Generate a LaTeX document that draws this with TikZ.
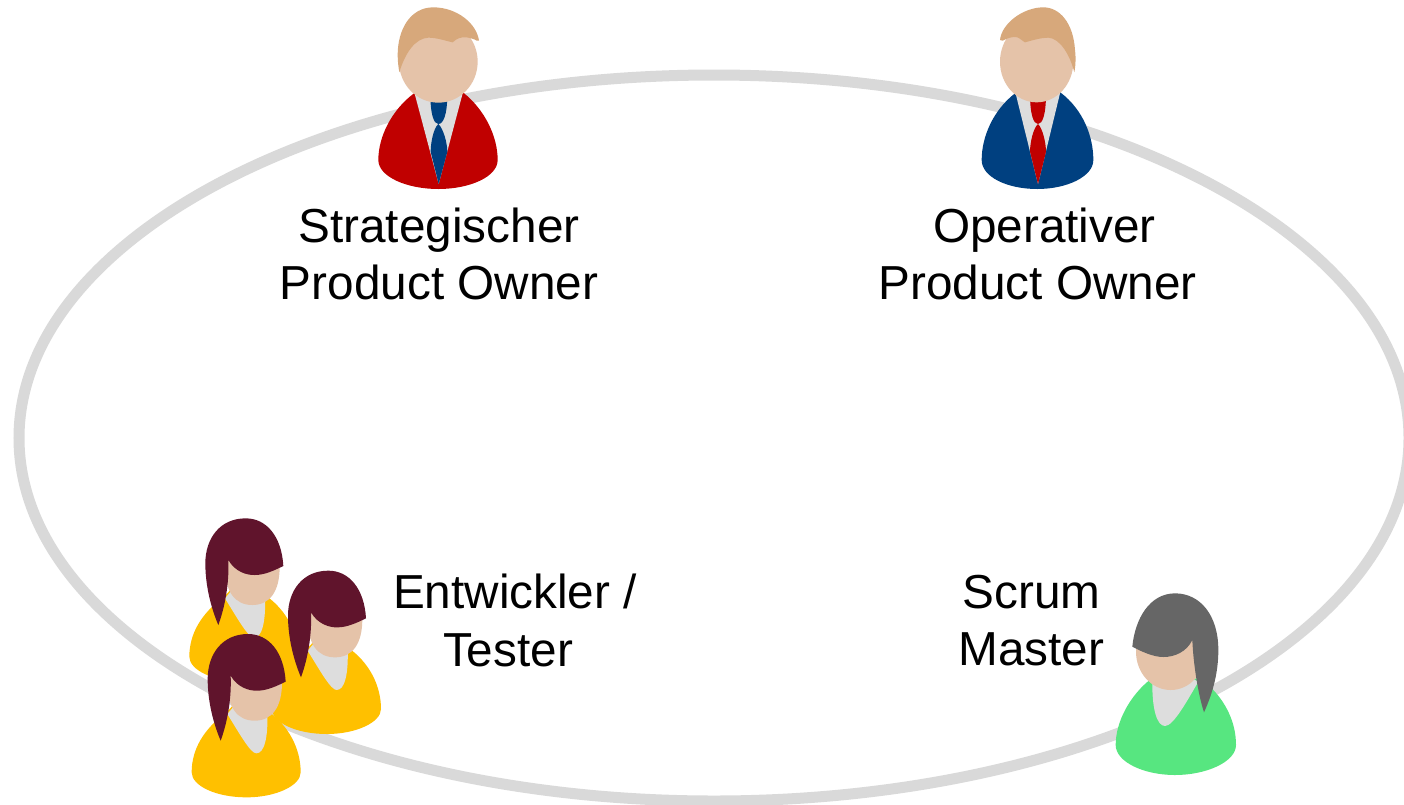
\documentclass[tikz,border=0pt]{standalone}
\usepackage{fontspec}
\setmainfont{Liberation Sans}
\definecolor{ringc}{HTML}{D9D9D9}
\definecolor{skinc}{HTML}{E5C3A9}
\definecolor{blondc}{HTML}{D7A87B}
\definecolor{collarc}{HTML}{DDDDDD}
\definecolor{suitred}{HTML}{C00000}
\definecolor{suitblue}{HTML}{004080}
\definecolor{shirtyellow}{HTML}{FFC000}
\definecolor{hairdark}{HTML}{60142C}
\definecolor{hairgrey}{HTML}{666666}
\definecolor{shirtgreen}{HTML}{57E680}
\tikzset{
  ring/.style={draw=ringc,line width=11pt},
  skin/.style={fill=skinc},
  collar/.style={fill=collarc},
  label/.style={inner sep=0pt,align=center,text=black,font=\fontsize{47.7}{57.3}\selectfont},
  zoomed/.style={shift={#1},scale=1/3}
}
\newcommand{\womanfig}[2]{%
  \begin{scope}[shift={#1}]
    \fill[shirtyellow] (255,255) .. controls (320,300) and (355,370) .. (355,440) .. controls (355,480) and (280,515) .. (193,515) .. controls (100,515) and (28,480) .. (28,440) .. controls (28,370) and (65,310) .. (130,262) -- (190,200) -- cycle;
    \fill[collar] (255,255) .. controls (258,340) and (245,383) .. (222,383) .. controls (205,383) and (175,330) .. (135,265) -- (190,200) -- cycle;
    \fill[skin] (135,170) .. controls (135,245) and (165,285) .. (217,285) .. controls (269,285) and (299,245) .. (299,170) .. controls (299,100) and (264,55) .. (217,55) .. controls (170,55) and (135,100) .. (135,170) -- cycle;
    \fill[#2] (197,25) .. controls (120,25) and (76,85) .. (76,160) .. controls (76,240) and (100,310) .. (115,345) .. controls (135,290) and (148,220) .. (145,150) .. controls (165,185) and (200,196) .. (225,195) .. controls (255,195) and (285,180) .. (310,168) .. controls (305,80) and (260,25) .. (197,25) -- cycle;
  \end{scope}}
\begin{document}
\begin{tikzpicture}[x=1pt,y=-1pt]
\clip (0,0) rectangle (1404,804);
\fill[white] (0,0) rectangle (1404,804);
\draw[ring] (714,438) ellipse [x radius=695,y radius=363];

% strategic product owner
\begin{scope}[zoomed={(360,0)}]
  \fill[suitred] (162,280) .. controls (95,330) and (55,410) .. (55,480) .. controls (55,530) and (140,567) .. (235,567) .. controls (330,567) and (413,530) .. (413,480) .. controls (413,410) and (375,330) .. (310,278) -- (235,200) -- cycle;
  \fill[collar] (165,285) -- (236,552) -- (308,280) -- (235,200) -- cycle;
  \fill[suitblue] (211,280) .. controls (211,345) and (222,372) .. (235,372) .. controls (250,372) and (262,345) .. (262,280) -- cycle;
  \fill[suitblue] (235,372) .. controls (220,385) and (212,430) .. (212,455) -- (236,552) -- (262,455) .. controls (262,430) and (250,385) .. (235,372) -- cycle;
  \fill[skin] (235,185) ellipse [x radius=118,y radius=123];
  \fill[blondc] (220,22) .. controls (150,22) and (113,90) .. (113,165) .. controls (113,185) and (116,205) .. (118,217) .. controls (135,160) and (165,115) .. (205,113) .. controls (230,113) and (255,122) .. (278,127) .. controls (290,115) and (305,110) .. (320,112) .. controls (335,115) and (345,118) .. (350,122) -- (357,122) .. controls (350,70) and (290,22) .. (220,22) -- cycle;
\end{scope}

% operative product owner
\begin{scope}[zoomed={(960,0)}]
  \fill[suitblue] (165,280) .. controls (100,330) and (65,410) .. (65,480) .. controls (65,530) and (140,567) .. (232,567) .. controls (320,567) and (400,530) .. (400,480) .. controls (400,410) and (370,330) .. (302,278) -- (232,200) -- cycle;
  \fill[collar] (168,285) -- (234,552) -- (300,280) -- (232,200) -- cycle;
  \fill[suitred] (210,280) .. controls (210,345) and (221,372) .. (234,372) .. controls (247,372) and (258,345) .. (258,280) -- cycle;
  \fill[suitred] (234,372) .. controls (219,385) and (210,430) .. (210,455) -- (234,552) -- (258,455) .. controls (258,430) and (248,385) .. (234,372) -- cycle;
  \fill[skin] (230,185) ellipse [x radius=110,y radius=122];
  \fill[blondc] (250,22) .. controls (190,22) and (125,70) .. (120,120) -- (128,122) .. controls (140,115) and (160,108) .. (172,112) .. controls (180,115) and (190,125) .. (195,127) .. controls (220,120) and (245,113) .. (265,113) .. controls (300,115) and (330,165) .. (343,217) .. controls (348,190) and (347,165) .. (345,150) .. controls (340,70) and (300,22) .. (250,22) -- cycle;
\end{scope}

% developers / testers
\begin{scope}[zoomed={(180,510)}]
  \womanfig{(0,0)}{hairdark}
  \womanfig{(248,157)}{hairdark}
  \womanfig{(7,347)}{hairdark}
\end{scope}

% scrum master
\begin{scope}[zoomed={(1100,585)}]
  \fill[shirtgreen] (155,280) .. controls (90,330) and (47,410) .. (47,480) .. controls (47,530) and (130,570) .. (225,570) .. controls (320,570) and (408,530) .. (408,480) .. controls (408,410) and (375,350) .. (335,310) -- (290,280) -- cycle;
  \fill[collar] (157,280) .. controls (155,370) and (170,423) .. (195,423) .. controls (220,423) and (260,350) .. (295,290) -- (220,250) -- cycle;
  \fill[skin] (212,200) ellipse [x radius=104,y radius=115];
  \fill[hairgrey] (225,25) .. controls (150,25) and (105,100) .. (97,185) .. controls (125,200) and (160,216) .. (190,216) .. controls (225,216) and (260,200) .. (277,165) .. controls (280,240) and (295,330) .. (312,382) .. controls (340,320) and (355,260) .. (355,195) .. controls (355,90) and (300,25) .. (225,25) -- cycle;
\end{scope}

\node[label] (spo) at (439,254) {Strategischer\\Product Owner};
\node[label] (opo) at (1037.5,254) {\hspace*{14pt}Operativer\\Product Owner};
\node[label] (dev) at (508,620.5) {\hspace*{14pt}Entwickler /\\Tester};
\node[label] (sm) at (1031.5,620.5) {Scrum\\Master};
\end{tikzpicture}
\end{document}
